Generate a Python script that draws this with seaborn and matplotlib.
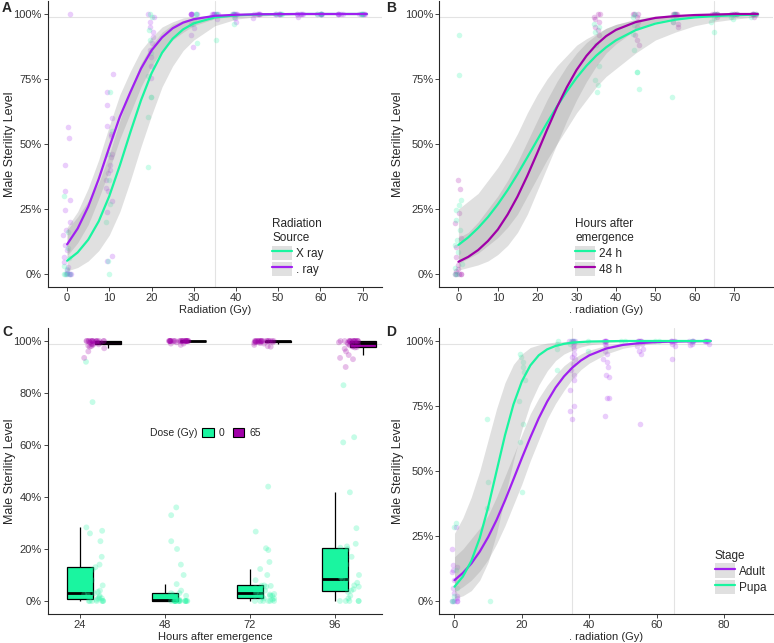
import numpy as np
import pandas as pd
import matplotlib
matplotlib.use("Agg")
import matplotlib.pyplot as plt
from matplotlib.lines import Line2D
from matplotlib.patches import Patch
from matplotlib.ticker import PercentFormatter
import seaborn as sns

sns.set_style("ticks")
plt.rcParams["font.family"] = ["Liberation Sans", "DejaVu Sans"]
plt.rcParams["axes.linewidth"] = 0.8

GREEN = "#1AF5A0"
PURPLE = "#A020F0"
MAGENTA = "#A000A8"
BAND = "#999999"
REF = "#E3E3E3"

# ---------------- Panel A: radiation source ----------------
a_gamma_pts = {
    0: [1.0, 0.567, 0.522, 0.42, 0.32, 0.285, 0.246, 0.2, 0.169, 0.15, 0.11,
        0.092, 0.067, 0.047, 0.028, 0.015, 0.005, 0, 0, 0, 0],
    10: [0.77, 0.70, 0.65, 0.60, 0.57, 0.54, 0.53, 0.46, 0.45, 0.42, 0.40,
         0.39, 0.36, 0.33, 0.32, 0.28, 0.24, 0.07, 0.05],
    20: [1.0, 0.99, 0.97, 0.95, 0.93, 0.91, 0.887, 0.86, 0.835, 0.80, 0.753],
    30: [1.0, 1.0, 1.0, 1.0, 1.0, 1.0, 0.96, 0.945, 0.92, 0.874],
    35: [1.0, 1.0, 1.0, 1.0, 1.0, 1.0, 0.98],
    40: [1.0, 1.0, 1.0, 1.0, 1.0, 1.0, 0.985, 0.97],
    45: [1.0, 1.0, 1.0, 1.0, 1.0, 1.0, 0.985],
    50: [1.0, 1.0, 1.0, 1.0, 1.0, 1.0],
    55: [1.0, 1.0, 1.0, 1.0, 1.0, 1.0, 0.99],
    60: [1.0, 1.0, 1.0, 1.0, 1.0, 1.0],
    65: [1.0, 1.0, 1.0, 1.0, 1.0, 1.0],
    70: [1.0, 1.0, 1.0, 1.0, 1.0, 1.0],
}
a_xray_pts = {
    0: [0.30, 0.16, 0.10, 0.06, 0.03, 0.02, 0, 0, 0, 0],
    10: [0.70, 0.55, 0.46, 0.36, 0.27, 0.20, 0.05, 0.0],
    20: [1.0, 0.99, 0.94, 0.90, 0.85, 0.76, 0.68, 0.68, 0.605, 0.41],
    30: [1.0, 1.0, 0.98, 0.96, 0.89],
    35: [1.0, 1.0, 0.99, 0.90],
    40: [1.0, 1.0, 0.99, 0.96],
    50: [1.0, 1.0, 1.0],
    60: [1.0, 1.0, 1.0],
    70: [1.0, 1.0, 1.0],
}
a_grid = [0, 2.5, 5, 7.5, 10, 12.5, 15, 17.5, 20, 22.5, 25, 27.5, 30,
          35, 40, 45, 50, 55, 60, 65, 71]
a_xray_fit = [.051, .083, .132, .203, .30, .418, .546, .668, .772, .851, .905, .941, .964,
              .987, .995, .998, .9993, 1, 1, 1, 1]
a_xray_lo = [.012, .025, .05, .09, .15, .24, .36, .49, .61, .72, .80, .86, .90,
             .955, .98, .99, .996, .998, .999, 1, 1]
a_xray_hi = [.17, .22, .28, .35, .46, .59, .71, .81, .88, .93, .96, .975, .985,
             .995, .999, 1, 1, 1, 1, 1, 1]
a_gamma_fit = [.114, .175, .259, .366, .488, .605, .70, .79, .86, .91, .945, .967, .98,
               .993, .997, .999, .9995, 1, 1, 1, 1]
a_gamma_lo = [.07, .12, .19, .29, .40, .52, .62, .72, .80, .86, .90, .93, .955,
              .982, .993, .997, .999, 1, 1, 1, 1]
a_gamma_hi = [.18, .24, .33, .44, .57, .69, .78, .86, .91, .95, .97, .985, .99,
              .997, .999, 1, 1, 1, 1, 1, 1]

# ---------------- Panel B: hours after emergence ----------------
b_24_pts = {
    0: [0.919, 0.765, 0.285, 0.265, 0.246, 0.208, 0.169, 0.131, 0.112, 0.086,
        0.04, 0.022, 0, 0],
    35: [0.96, 0.95, 0.93, 0.88, 0.80, 0.746, 0.727, 0.70],
    45: [1.0, 0.99, 0.958, 0.925, 0.862, 0.778, 0.778, 0.71],
    55: [1.0, 1.0, 0.99, 0.97, 0.682],
    65: [1.0, 1.0, 0.983, 0.97, 0.93],
    70: [1.0, 1.0, 0.99, 0.98],
    75: [1.0, 1.0, 0.99],
}
b_48_pts = {
    0: [0.362, 0.326, 0.233, 0.197, 0.137, 0.105, 0.067, 0.035, 0.02, 0.01,
        0, 0, 0, 0, 0],
    35: [1.0, 1.0, 0.99, 0.98, 0.97, 0.95, 0.94, 0.92],
    45: [1.0, 1.0, 1.0, 0.99, 0.97, 0.95, 0.92, 0.90, 0.88],
    55: [1.0, 1.0, 1.0, 1.0, 1.0, 0.99, 0.97, 0.96, 0.95],
    65: [1.0, 1.0, 1.0, 1.0, 1.0, 0.99],
    70: [1.0, 1.0, 1.0, 1.0, 1.0],
    75: [1.0, 1.0, 1.0, 1.0, 1.0, 0.99],
}
b_grid = [0, 2.5, 5, 7.5, 10, 12.5, 15, 17.5, 20, 22.5, 25, 27.5, 30, 32.5,
          35, 37.5, 40, 45, 50, 55, 60, 65, 70, 76]
b_24_fit = [.112, .141, .177, .219, .268, .323, .384, .449, .515, .581, .644, .702,
            .755, .801, .840, .872, .899, .938, .963, .978, .987, .992, .995, .998]
b_24_lo = [.04, .06, .08, .11, .14, .18, .23, .30, .37, .44, .50, .56, .62, .67,
           .72, .76, .79, .85, .90, .93, .955, .97, .98, .99]
b_24_hi = [.25, .28, .31, .36, .41, .47, .54, .62, .69, .75, .80, .84, .88, .905,
           .925, .945, .96, .978, .988, .994, .997, .998, .999, 1.0]
b_48_fit = [.047, .066, .092, .127, .171, .229, .298, .378, .465, .555, .641, .718,
            .785, .839, .882, .915, .939, .969, .985, .992, .996, .998, 1.0, 1.0]
b_48_lo = [.015, .025, .035, .05, .075, .11, .16, .23, .32, .41, .50, .59, .67, .74,
           .80, .85, .885, .94, .97, .985, .992, .996, .998, .999]
b_48_hi = [.14, .16, .20, .25, .30, .36, .43, .51, .59, .67, .74, .80, .85, .89,
           .92, .945, .96, .98, .992, .997, .999, 1.0, 1.0, 1.0]

# ---------------- Panel C: box plots by hours ----------------
c_hours = ["24", "48", "72", "96"]
c_dose0 = {
    "24": [0, 0, 0, 0, 0, 0, 0, 0.005, 0.01, 0.01, 0.015, 0.02, 0.02, 0.025, 0.03,
           0.03, 0.035, 0.04, 0.05, 0.06, 0.08, 0.10, 0.12, 0.13, 0.14, 0.17, 0.23,
           0.26, 0.27, 0.283, 0.765, 0.92],
    "48": [0, 0, 0, 0, 0, 0, 0, 0, 0, 0, 0, 0, 0, 0, 0, 0, 0.005, 0.01, 0.01, 0.015,
           0.02, 0.025, 0.03, 0.03, 0.04, 0.065, 0.10, 0.14, 0.20, 0.23, 0.33, 0.36],
    "72": [0, 0, 0, 0, 0, 0, 0.005, 0.01, 0.01, 0.015, 0.02, 0.02, 0.025, 0.025,
           0.027, 0.027, 0.03, 0.035, 0.04, 0.045, 0.05, 0.055, 0.058, 0.06, 0.059,
           0.08, 0.10, 0.123, 0.15, 0.196, 0.203, 0.267, 0.44],
    "96": [0, 0, 0, 0, 0, 0.01, 0.02, 0.035, 0.04, 0.045, 0.05, 0.055, 0.06, 0.07,
           0.08, 0.085, 0.09, 0.095, 0.10, 0.12, 0.14, 0.17, 0.20, 0.205, 0.21, 0.22,
           0.28, 0.418, 0.61, 0.63, 0.83],
}
c_dose65 = {
    "24": [1.0] * 14 + [0.998, 0.996, 0.995, 0.994, 0.993, 0.99, 0.989, 0.988, 0.987,
                        0.985, 0.982, 0.98, 0.978, 0.972, 0.96, 0.935],
    "48": [1.0] * 26 + [0.995, 0.99, 0.99, 0.985],
    "72": [1.0] * 18 + [0.998, 0.997, 0.996, 0.995, 0.995, 0.993, 0.992, 0.99, 0.985,
                        0.98, 0.978],
    "96": [1.0] * 14 + [0.998, 0.995, 0.993, 0.99, 0.99, 0.988, 0.985, 0.983, 0.98,
                        0.978, 0.976, 0.975, 0.97, 0.96, 0.946, 0.935, 0.93, 0.90],
}

# ---------------- Panel D: stage ----------------
d_adult_pts = {
    0: [0.286, 0.20, 0.14, 0.13, 0.12, 0.11, 0.08, 0.05, 0.03, 0.02, 0.01, 0, 0, 0, 0],
    35: [1.0, 1.0, 1.0, 1.0, 1.0, 0.99, 0.98, 0.97, 0.95, 0.94, 0.93, 0.91, 0.89,
         0.87, 0.85, 0.81, 0.75, 0.73, 0.70],
    45: [1.0, 1.0, 1.0, 1.0, 1.0, 0.99, 0.98, 0.96, 0.95, 0.93, 0.92, 0.90, 0.87,
         0.86, 0.78, 0.78, 0.71],
    55: [1.0, 1.0, 1.0, 1.0, 1.0, 1.0, 0.99, 0.98, 0.97, 0.96, 0.95, 0.68],
    65: [1.0, 1.0, 1.0, 1.0, 1.0, 0.99, 0.98, 0.93],
    70: [1.0, 1.0, 1.0, 1.0, 0.99, 0.985],
    75: [1.0, 1.0, 1.0, 1.0, 1.0, 0.99],
}
d_pupa_pts = {
    0: [0.30, 0.285, 0.12, 0.05, 0.02, 0, 0],
    10: [0.70, 0.457, 0.356, 0.0],
    20: [0.95, 0.94, 0.92, 0.90, 0.88, 0.85, 0.77, 0.68, 0.61, 0.42],
    30: [1.0, 0.99, 0.97, 0.89],
    35: [1.0, 1.0, 0.99],
    40: [1.0, 0.96],
    50: [1.0, 1.0],
    60: [1.0, 1.0],
    70: [1.0],
}
d_grid = b_grid
d_adult_fit = [.080, .108, .144, .190, .246, .312, .387, .468, .550, .629, .703, .767,
               .821, .864, .898, .925, .945, .971, .985, .992, .996, .998, .999, 1.0]
d_adult_lo = [.035, .055, .08, .115, .16, .22, .29, .37, .45, .54, .62, .70, .76, .81,
              .855, .89, .915, .95, .972, .984, .991, .995, .997, .999]
d_adult_hi = [.17, .20, .24, .28, .33, .40, .48, .56, .64, .72, .78, .83, .87, .905,
              .93, .95, .965, .983, .992, .996, .998, .999, 1, 1]
d_pupa_fit = [.055, .094, .154, .242, .361, .50, .638, .756, .845, .906, .945, .968,
              .981, .989, .994, .996, .998, .999, 1, 1, 1, 1, 1, 1]
d_pupa_lo = [.01, .02, .04, .08, .15, .26, .40, .54, .66, .76, .83, .885, .925, .95,
             .965, .977, .985, .993, .997, .999, 1, 1, 1, 1]
d_pupa_hi = [.26, .32, .40, .50, .62, .74, .84, .91, .95, .975, .985, .992, .996,
             .998, .999, 1, 1, 1, 1, 1, 1, 1, 1, 1]


def flatten(pts):
    xs, ys = [], []
    for dose, vals in pts.items():
        xs += [dose] * len(vals)
        ys += vals
    return xs, ys


def draw_points(ax, pts, color):
    xs, ys = flatten(pts)
    sns.regplot(x=xs, y=ys, fit_reg=False, x_jitter=0.9, color=color, ax=ax,
                scatter_kws={"s": 16, "alpha": 0.22, "linewidths": 0})


def draw_fit(ax, grid, fit, lo, hi, color):
    ax.fill_between(grid, lo, hi, color=BAND, alpha=0.3, lw=0, zorder=2)
    sns.lineplot(x=grid, y=fit, color=color, lw=1.6, ax=ax, zorder=3)


def style_axis(ax, xlim, xticks, xlabel, yticks, ylab_x):
    ax.set_xlim(xlim)
    ax.set_ylim(-0.05, 1.05)
    ax.set_xticks(xticks)
    ax.set_yticks(yticks)
    ax.yaxis.set_major_formatter(PercentFormatter(xmax=1, decimals=0))
    ax.set_xlabel(xlabel, fontsize=8, va="center")
    ax.set_ylabel("Male Sterility Level", fontsize=9, va="center")
    ax.xaxis.set_label_coords(0.5, -0.082)
    ax.yaxis.set_label_coords(ylab_x, 0.5)
    ax.tick_params(labelsize=8, labelcolor="#333333", length=2.75, width=0.6, pad=1.5)
    sns.despine(ax=ax)
    ax.axhline(0.99, color=REF, lw=0.8, zorder=0)


def fit_legend(ax, title, labels, colors, anchor):
    handles = [(Patch(fc=BAND, alpha=0.3, lw=0), Line2D([], [], color=c, lw=1.6))
               for c in colors]
    leg = ax.legend(handles, labels, title=title, loc="lower left",
                    bbox_to_anchor=anchor, frameon=False, fontsize=8.5,
                    title_fontsize=8.5, alignment="left", handlelength=1.7,
                    handleheight=1.5, labelspacing=0.15, handletextpad=0.35,
                    borderpad=0, borderaxespad=0)
    return leg


fig = plt.figure(figsize=(7.74, 6.43), dpi=100)
W, H = 774, 643
pos_a = [47.7 / W, 1 - 287 / H, 334.3 / W, 286 / H]
pos_b = [439.3 / W, 1 - 287 / H, 333.7 / W, 286 / H]
pos_c = [47.7 / W, 1 - 614 / H, 334.3 / W, 286 / H]
pos_d = [439.3 / W, 1 - 614 / H, 333.7 / W, 286 / H]

# A
ax = fig.add_axes(pos_a)
draw_points(ax, a_gamma_pts, PURPLE)
draw_points(ax, a_xray_pts, GREEN)
draw_fit(ax, a_grid, a_xray_fit, a_xray_lo, a_xray_hi, GREEN)
draw_fit(ax, a_grid, a_gamma_fit, a_gamma_lo, a_gamma_hi, PURPLE)
ax.axvline(35, color=REF, lw=0.8, zorder=0)
style_axis(ax, (-4.6, 74.6), range(0, 71, 10), "Radiation (Gy)",
           [0, .25, .5, .75, 1], -0.113)
fit_legend(ax, "Radiation\nSource", ["X ray", ". ray"], [GREEN, PURPLE], (0.671, 0.038))

# B
ax = fig.add_axes(pos_b)
draw_points(ax, b_48_pts, MAGENTA)
draw_points(ax, b_24_pts, GREEN)
draw_fit(ax, b_grid, b_24_fit, b_24_lo, b_24_hi, GREEN)
draw_fit(ax, b_grid, b_48_fit, b_48_lo, b_48_hi, MAGENTA)
ax.axvline(65, color=REF, lw=0.8, zorder=0)
style_axis(ax, (-4.85, 79.85), range(0, 71, 10), ". radiation (Gy)",
           [0, .25, .5, .75, 1], -0.123)
fit_legend(ax, "Hours after\nemergence", ["24 h", "48 h"], [GREEN, MAGENTA], (0.407, 0.038))

# C
ax = fig.add_axes(pos_c)
rows = []
for h in c_hours:
    rows += [(h, "0", v) for v in c_dose0[h]]
    rows += [(h, "65", v) for v in c_dose65[h]]
dfc = pd.DataFrame(rows, columns=["hours", "dose", "val"])
sns.boxplot(data=dfc, x="hours", y="val", hue="dose", order=c_hours,
            hue_order=["0", "65"], palette=[GREEN, MAGENTA], saturation=1,
            width=0.66, gap=0.06, showfliers=False, showcaps=False,
            linecolor="black", linewidth=0.9, medianprops={"linewidth": 2},
            legend=False, ax=ax)
sns.stripplot(data=dfc, x="hours", y="val", hue="dose", order=c_hours,
              hue_order=["0", "65"], palette=[GREEN, MAGENTA], dodge=False,
              jitter=0.12, size=4.2, alpha=0.25, linewidth=0, legend=False,
              ax=ax, zorder=3)
style_axis(ax, (-0.545, 3.388), np.arange(4) - 0.165, "Hours after emergence",
           [0, .2, .4, .6, .8, 1], -0.113)
ax.set_xticklabels(c_hours)
ax.text(0.306, 0.633, "Dose (Gy)", transform=ax.transAxes, va="center", fontsize=7.5)
ax.legend([Patch(fc=GREEN, ec="black", lw=0.8), Patch(fc=MAGENTA, ec="black", lw=0.8)],
          ["0", "65"], ncol=2, loc="center left", bbox_to_anchor=(0.462, 0.633),
          frameon=False, fontsize=7.5, handlelength=1.1, handleheight=0.9,
          columnspacing=0.8, handletextpad=0.5, borderpad=0, borderaxespad=0)

# D
ax = fig.add_axes(pos_d)
draw_points(ax, d_adult_pts, PURPLE)
draw_points(ax, d_pupa_pts, GREEN)
draw_fit(ax, d_grid, d_adult_fit, d_adult_lo, d_adult_hi, PURPLE)
draw_fit(ax, d_grid, d_pupa_fit, d_pupa_lo, d_pupa_hi, GREEN)
ax.axvline(35, color=REF, lw=0.8, zorder=0)
ax.axvline(65, color=REF, lw=0.8, zorder=0)
style_axis(ax, (-4.5, 94.5), range(0, 81, 20), ". radiation (Gy)",
           [0, .25, .5, .75, 1], -0.123)
fit_legend(ax, "Stage", ["Adult", "Pupa"], [PURPLE, GREEN], (0.826, 0.07))

for lab, y in zip("ABCD", [1, 1, 325, 325]):
    x = 2 if lab in "AC" else 386
    fig.text(x / W, 1 - y / H, lab, fontsize=10, fontweight="bold", va="top")

fig.savefig("out.png", dpi=100)
